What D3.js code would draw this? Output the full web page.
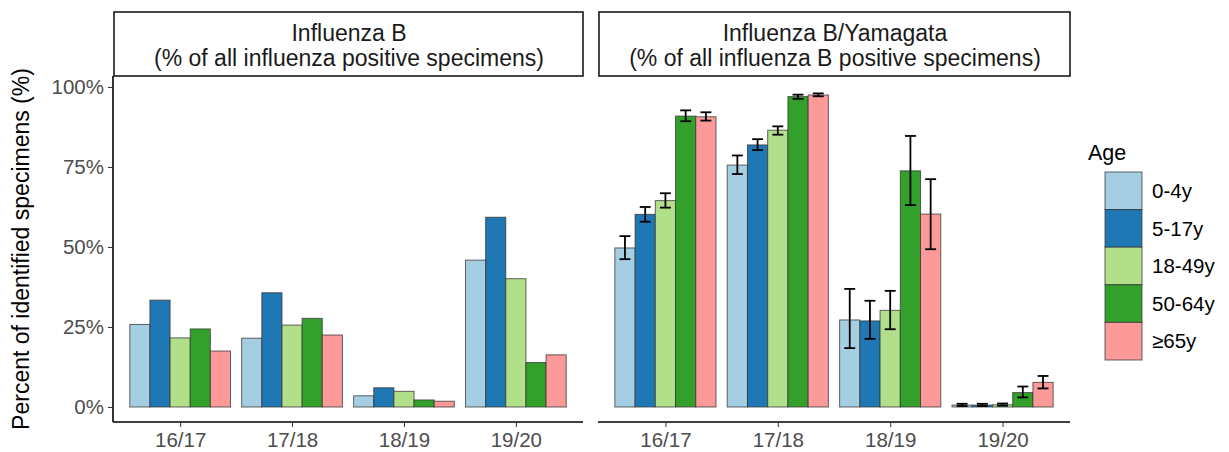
<!DOCTYPE html>
<html><head><meta charset="utf-8">
<script src="https://cdn.jsdelivr.net/npm/d3@7"></script>
<style>body{margin:0;background:#fff}svg{font-family:"Liberation Sans",Arial,sans-serif}</style>
</head><body>
<svg id="c" width="1229" height="452"></svg>
<script>
const seasons = ["16/17","17/18","18/19","19/20"];
const ages = ["0-4y","5-17y","18-49y","50-64y","≥65y"];
const colors = ["#A6CEE3","#1F78B4","#B2DF8A","#33A02C","#FB9A99"];
const yTicks = [0,0.25,0.5,0.75,1];
const yTickLabels = ["0%","25%","50%","75%","100%"];
const panelTitles = [["Influenza B","(% of all influenza positive specimens)"],["Influenza B/Yamagata","(% of all influenza B positive specimens)"]];
// Influenza B share, rows = season, cols = age
const fluB = [
  [0.258,0.334,0.216,0.244,0.175],
  [0.215,0.357,0.256,0.277,0.225],
  [0.035,0.060,0.049,0.022,0.018],
  [0.459,0.593,0.401,0.139,0.163]
];
// Yamagata share with CI
const yam = [
  [0.497,0.602,0.645,0.909,0.907],
  [0.756,0.819,0.865,0.970,0.975],
  [0.272,0.269,0.302,0.738,0.603],
  [0.006,0.006,0.007,0.045,0.077]
];
const yamLo = [
  [0.462,0.579,0.623,0.893,0.895],
  [0.728,0.803,0.851,0.963,0.971],
  [0.184,0.213,0.243,0.631,0.493],
  [0.003,0.003,0.004,0.030,0.058]
];
const yamHi = [
  [0.534,0.625,0.668,0.927,0.921],
  [0.786,0.837,0.877,0.976,0.980],
  [0.369,0.332,0.363,0.847,0.712],
  [0.010,0.010,0.011,0.064,0.097]
];

const svg = d3.select("#c");
const y = d3.scaleLinear().domain([0,1]).range([407,87]);
const panelTop = 76, panelBottom = 422;
const panels = [
  {x0:113, x1:583, vals:fluB, lo:null, hi:null, yaxis:true},
  {x0:598, x1:1070, vals:yam, lo:yamLo, hi:yamHi, yaxis:false}
];
const col = d3.scaleOrdinal().domain(ages).range(colors);
const FONT = "Liberation Sans, Arial, sans-serif";

panels.forEach((p,pi)=>{
  const g = svg.append("g");
  const xs = d3.scalePoint().domain(seasons).range([p.x0,p.x1]).padding(0.6);
  const step = xs.step();
  const xa = d3.scaleBand().domain(ages).range([-0.45*step,0.45*step]);
  // strip
  g.append("rect").attr("x",p.x0+1).attr("y",12).attr("width",p.x1-p.x0-1).attr("height",panelTop-12)
    .attr("fill","#fff").attr("stroke","#1a1a1a").attr("stroke-width",1.6);
  panelTitles[pi].forEach((t,i)=>{
    g.append("text").attr("x",(p.x0+p.x1)/2+1).attr("y",41+i*25).attr("text-anchor","middle")
      .attr("font-size",23).attr("fill","#1a1a1a").text(t);
  });
  // bars
  seasons.forEach((s,si)=>{
    ages.forEach((a,ai)=>{
      const v = p.vals[si][ai];
      g.append("rect").attr("x",xs(s)+xa(a)).attr("width",xa.bandwidth())
        .attr("y",y(v)).attr("height",y(0)-y(v))
        .attr("fill",col(a)).attr("stroke","#333").attr("stroke-opacity",0.75).attr("stroke-width",1);
    });
  });
  if (p.lo) {
    seasons.forEach((s,si)=>{
      ages.forEach((a,ai)=>{
        const cx = xs(s)+xa(a)+xa.bandwidth()/2, hw = xa.bandwidth()*0.27;
        const lo=y(p.lo[si][ai]), hi=y(p.hi[si][ai]);
        const eg = g.append("g").attr("stroke","#000").attr("stroke-width",1.8);
        eg.append("line").attr("x1",cx).attr("x2",cx).attr("y1",lo).attr("y2",hi);
        eg.append("line").attr("x1",cx-hw).attr("x2",cx+hw).attr("y1",lo).attr("y2",lo);
        eg.append("line").attr("x1",cx-hw).attr("x2",cx+hw).attr("y1",hi).attr("y2",hi);
      });
    });
  }
  // x axis
  const xAxis = d3.axisBottom(xs).tickSize(5).tickPadding(5);
  const xg = g.append("g").attr("transform",`translate(0,${panelBottom})`).call(xAxis);
  xg.select(".domain").attr("stroke","#000").attr("stroke-width",1.6).attr("d",`M${p.x0},0H${p.x1}`);
  xg.selectAll(".tick line").attr("stroke","#333");
  xg.selectAll(".tick text").attr("font-size",20.5).attr("fill","#4d4d4d").attr("font-family",FONT);
  if (p.yaxis) {
    const yAxis = d3.axisLeft(y).tickValues(yTicks).tickFormat((d,i)=>yTickLabels[i]).tickSize(5).tickPadding(4);
    const yg = g.append("g").attr("transform",`translate(${p.x0},0)`).call(yAxis);
    yg.select(".domain").attr("stroke","#000").attr("stroke-width",1.6).attr("d",`M0,${panelTop}V${panelBottom}`);
    yg.selectAll(".tick line").attr("stroke","#333");
    yg.selectAll(".tick text").attr("font-size",20.5).attr("fill","#4d4d4d").attr("font-family",FONT);
  }
});

// y title
svg.append("text").attr("transform",`translate(29,${(panelTop+panelBottom)/2}) rotate(-90)`)
  .attr("text-anchor","middle").attr("font-size",23).attr("fill","#000").text("Percent of identified specimens (%)");

// legend
const lg = svg.append("g");
lg.append("text").attr("x",1088).attr("y",160).attr("font-size",21.5).attr("fill","#000").text("Age");
ages.forEach((a,i)=>{
  const ky = 172 + i*37.6;
  lg.append("rect").attr("x",1105).attr("y",ky).attr("width",37).attr("height",37.6)
    .attr("fill",col(a)).attr("stroke","#333").attr("stroke-opacity",0.75).attr("stroke-width",1);
  lg.append("text").attr("x",1152).attr("y",ky+26).attr("font-size",20.5).attr("fill","#000").text(a);
});
</script>
</body></html>
